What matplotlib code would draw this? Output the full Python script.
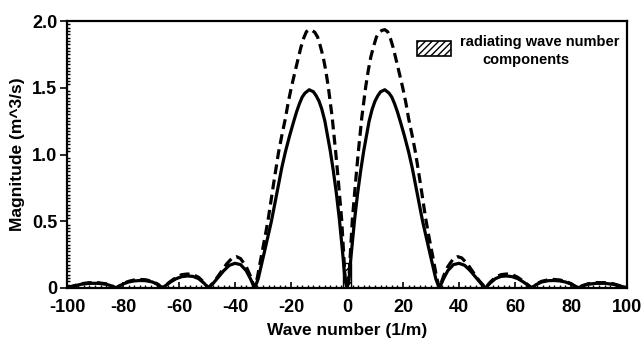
import numpy as np
import matplotlib
matplotlib.use("Agg")
import matplotlib.pyplot as plt
from matplotlib.patches import Rectangle
from matplotlib.ticker import MultipleLocator

# Values (curves are symmetric about k = 0, so only k >= 0 is listed)
k_solid = [0, 0.7, 1.5, 2.7, 3.8, 4.9, 6, 7.9, 9, 10, 11, 12, 13.5, 15, 16, 17, 18, 19, 20.5, 22, 23.3,
           24.5, 25.7, 27, 28.3, 29.5, 30.6, 31.7, 32.4, 33,
           34.5, 36, 38, 40, 42, 44, 46, 48, 49.5,
           51, 53, 55, 57, 59, 61, 63, 65, 66,
           67.5, 69.5, 72, 74, 76, 78, 80, 82.5,
           84, 86, 89, 92, 95, 98, 100]
mag_solid = [0, 0.06, 0.25, 0.51, 0.71, 0.88, 1.03, 1.25, 1.34, 1.40, 1.44, 1.47, 1.485, 1.46, 1.43, 1.38, 1.32, 1.25,
             1.14, 1.02, 0.90, 0.77, 0.64, 0.50, 0.38, 0.27, 0.17, 0.07, 0.03, 0,
             0.07, 0.13, 0.175, 0.185, 0.17, 0.13, 0.08, 0.03, 0,
             0.035, 0.07, 0.087, 0.09, 0.085, 0.07, 0.045, 0.015, 0,
             0.025, 0.045, 0.055, 0.056, 0.053, 0.045, 0.03, 0,
             0.015, 0.028, 0.035, 0.035, 0.028, 0.012, 0.003]

k_dash = [0, 0.7, 1.9, 3.0, 4.0, 5.3, 6.7, 7.6, 8.5, 9.5, 10.5, 11.5, 12.5, 13.5, 14.5, 15.5, 16.5, 18, 19.8,
          21, 22, 23.3, 24.5, 26.3, 28.1, 29.3, 30.5, 32, 33,
          34.5, 36, 38, 39.5, 41, 43, 45, 47, 49.5,
          51, 53, 55, 57, 59, 61, 63, 65, 66,
          67.5, 69.5, 72, 74, 76, 78, 80, 82.5,
          84, 86, 89, 92, 95, 98, 100]
mag_dash = [0, 0.08, 0.51, 0.78, 1.01, 1.28, 1.51, 1.63, 1.73, 1.81, 1.88, 1.915, 1.93, 1.935, 1.92, 1.87, 1.80, 1.67,
            1.51, 1.39, 1.27, 1.14, 1.01, 0.77, 0.52, 0.38, 0.25, 0.08, 0,
            0.09, 0.16, 0.22, 0.235, 0.225, 0.18, 0.12, 0.06, 0,
            0.04, 0.08, 0.1, 0.105, 0.1, 0.08, 0.05, 0.017, 0,
            0.028, 0.05, 0.062, 0.064, 0.06, 0.05, 0.033, 0,
            0.017, 0.031, 0.04, 0.04, 0.032, 0.014, 0.004]

# radiating band around k = 0
radiating_k0 = 1.6
radiating_height = 0.19

x_ticks = [-100, -80, -60, -40, -20, 0, 20, 40, 60, 80, 100]
y_ticks = [0, 0.5, 1.0, 1.5, 2.0]
y_ticklabels = ["0", "0.5", "1.0", "1.5", "2.0"]


def mirror(k, m):
    k = np.asarray(k, float)
    m = np.asarray(m, float)
    return np.concatenate([-k[:0:-1], k]), np.concatenate([m[:0:-1], m])


plt.rcParams['font.family'] = ['Liberation Sans', 'DejaVu Sans']
plt.rcParams['font.weight'] = 'bold'
plt.rcParams['axes.unicode_minus'] = False

fig = plt.figure(figsize=(6.42, 3.40), dpi=100)
ax = fig.add_axes([67 / 642, 52 / 340, 560 / 642, 267 / 340])

ks, ms = mirror(k_solid, mag_solid)
kd, md = mirror(k_dash, mag_dash)

ax.bar(0, radiating_height, width=2 * radiating_k0, fill=False, hatch='////',
       edgecolor='black', linewidth=1.0, zorder=1)
ax.plot(kd, md, color='black', lw=2.3, dashes=(3.1, 1.7), zorder=2)
ax.plot(ks, ms, color='black', lw=2.3, zorder=3)

ax.set_xlim(-100, 100)
ax.set_ylim(0, 2.0)
ax.set_xticks(x_ticks)
ax.set_yticks(y_ticks)
ax.set_yticklabels(y_ticklabels)
ax.xaxis.set_minor_locator(MultipleLocator(2))
ax.yaxis.set_minor_locator(MultipleLocator(0.025))

ax.tick_params(axis='x', which='major', direction='in', length=4, width=1.2,
               labelsize=13, pad=8, top=False)
ax.tick_params(axis='x', which='minor', direction='in', length=2, width=1.0, top=False)
ax.tick_params(axis='y', which='major', direction='out', length=5, width=1.2,
               labelsize=13, pad=2, right=False)
ax.tick_params(axis='y', which='minor', direction='in', length=2, width=1.0, right=False)

for s in ax.spines.values():
    s.set_linewidth(1.6)

ax.set_xlabel("Wave number (1/m)", fontsize=12.5, fontweight='bold')
ax.set_ylabel("Magnitude (m^3/s)", fontsize=12.5, fontweight='bold')
ax.xaxis.set_label_coords(0.5, -0.13)
ax.yaxis.set_label_coords(-0.075, 0.5)

# legend entry for the hatched band
ax.add_patch(Rectangle((0.625, 0.869), 0.061, 0.056, transform=ax.transAxes,
                       fill=False, hatch='/////', edgecolor='black', linewidth=1.2))
ax.text(0.702, 0.921, "radiating wave number", transform=ax.transAxes,
        fontsize=10.5, fontweight='bold', va='center', ha='left')
ax.text(0.741, 0.854, "components", transform=ax.transAxes,
        fontsize=10.5, fontweight='bold', va='center', ha='left')

fig.savefig("out.png", dpi=100)
